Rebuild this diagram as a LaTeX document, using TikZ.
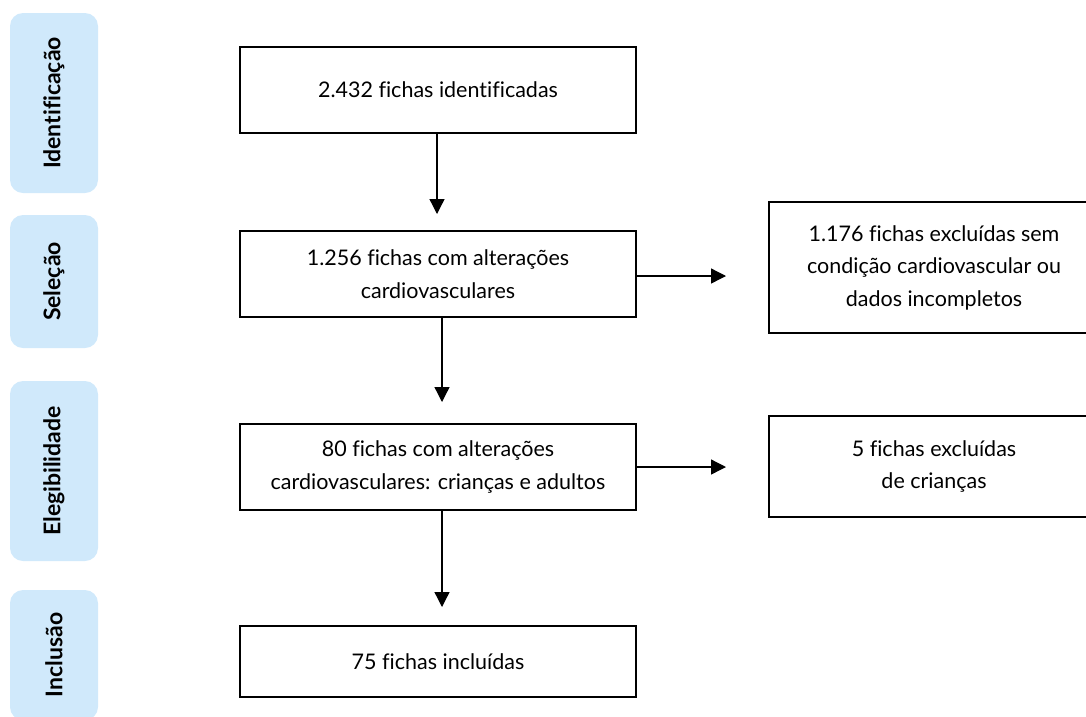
\documentclass[tikz,border=0pt]{standalone}
\usepackage{fontspec}
\setmainfont{Lato}[Ligatures={NoCommon}]
\usetikzlibrary{arrows.meta}
\definecolor{stagefill}{HTML}{D0E9FB}
\tikzset{
  flowbox/.style={draw=black, line width=1.3pt, align=center, font=\fontsize{21.5}{32.5}\selectfont, inner sep=0pt},
  stagebox/.style={fill=stagefill, rounded corners=13pt, rotate=90, minimum height=88pt, inner sep=0pt, font=\fontsize{23}{26}\bfseries\selectfont},
  arr/.style={draw=black, line width=1.3pt, -{Triangle[width=15pt,length=15pt]}}
}
\begin{document}
\begin{tikzpicture}[x=1pt,y=-1pt]
\useasboundingbox (0,0) rectangle (1086,716);
\clip (0,0) rectangle (1086,716);
% stage labels
\node[stagebox, minimum width=180pt] (s1) at (54,103) {Identificação};
\node[stagebox, minimum width=133pt] (s2) at (54,281.5) {Seleção};
\node[stagebox, minimum width=180pt] (s3) at (54,471) {Elegibilidade};
\node[stagebox, minimum width=130pt] (s4) at (54,655) {Inclusão};
% main boxes
\node[flowbox, minimum width=396pt, minimum height=86pt] (b1) at (438,90) {2.432 fichas identificadas};
\node[flowbox, minimum width=396pt, minimum height=86pt] (b2) at (438,274) {1.256 fichas com alterações\\cardiovasculares};
\node[flowbox, minimum width=396pt, minimum height=86pt] (b3) at (438,467) {80 fichas com alterações\\cardiovasculares: crianças e adultos};
\node[flowbox, minimum width=396pt, minimum height=71pt] (b4) at (438,661.5) {75 fichas incluídas};
% exclusion boxes
\node[flowbox, minimum width=330pt, minimum height=131pt] (e1) at (934,267.5) {1.176 fichas excluídas sem\\condição cardiovascular ou\\dados incompletos};
\node[flowbox, minimum width=330pt, minimum height=101pt] (e2) at (934,466.5) {5 fichas excluídas\\de crianças};
% arrow end points
\coordinate (t1) at (437,214);
\coordinate (t2) at (442,402);
\coordinate (t3) at (442,607);
\coordinate (h1) at (726,276);
\coordinate (h2) at (726,467);
\draw[arr] (b1.south -| t1) -- (t1);
\draw[arr] (b2.south -| t2) -- (t2);
\draw[arr] (b3.south -| t3) -- (t3);
\draw[arr] (b2.east |- h1) -- (h1);
\draw[arr] (b3.east |- h2) -- (h2);
\end{tikzpicture}
\end{document}
